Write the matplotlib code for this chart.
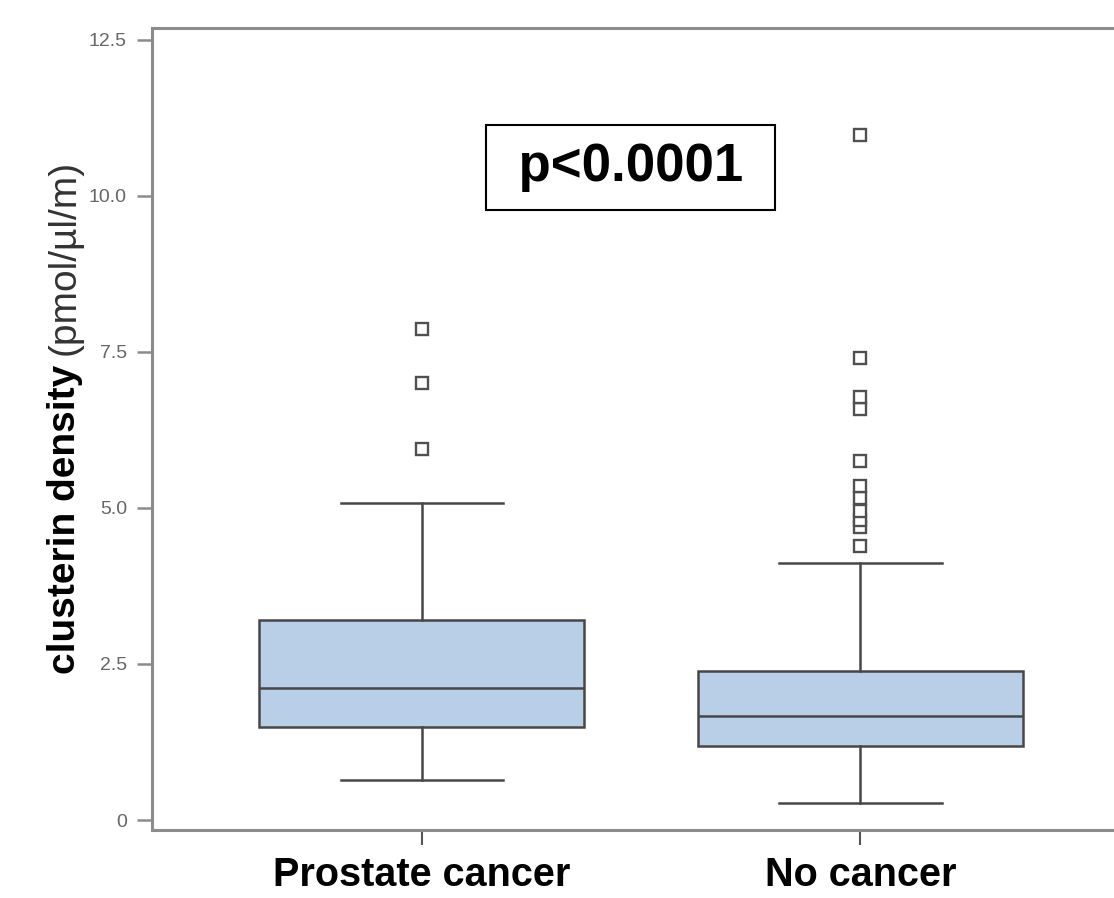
import matplotlib.pyplot as plt

# --- data ---
groups = ["Prostate cancer", "No cancer"]
whis_lo = [0.64, 0.28]
q1 = [1.49, 1.19]
medians = [2.12, 1.67]
q3 = [3.20, 2.39]
whis_hi = [5.08, 4.12]
fliers = [
    [5.95, 7.00, 7.87],
    [4.39, 4.70, 4.81, 4.95, 5.16, 5.35, 5.75, 6.59, 6.78, 7.40, 10.98],
]
yticks = [0, 2.5, 5.0, 7.5, 10.0, 12.5]
ytick_labels = ["0", "2.5", "5.0", "7.5", "10.0", "12.5"]
p_text = " p<0.0001 "

# --- style ---
BOX_FILL = "#b9cfe8"
LINE = "#474747"
SPINE = "#8c8c8c"
plt.rcParams["font.family"] = ["Liberation Sans", "DejaVu Sans"]

stats = []
for i, name in enumerate(groups):
    stats.append(dict(label=name, whislo=whis_lo[i], q1=q1[i], med=medians[i],
                      q3=q3[i], whishi=whis_hi[i], fliers=fliers[i]))

fig = plt.figure(figsize=(11.14, 8.98), dpi=100)
ax = fig.add_axes([152 / 1114, 1 - 830 / 898, 1 - 152 / 1114, (830 - 28) / 898])

ax.bxp(stats, positions=[1, 2], widths=0.74, capwidths=0.37,
       patch_artist=True,
       boxprops=dict(facecolor=BOX_FILL, edgecolor=LINE, linewidth=1.8),
       medianprops=dict(color=LINE, linewidth=1.8),
       whiskerprops=dict(color=LINE, linewidth=1.8),
       capprops=dict(color=LINE, linewidth=1.8),
       flierprops=dict(marker="s", markersize=8, markerfacecolor="white",
                       markeredgecolor="#505050", markeredgewidth=1.7))

ax.set_xlim(0.385, 2.578)
ax.set_ylim(-0.16, 12.69)

ax.set_yticks(yticks)
ax.set_yticklabels(ytick_labels, fontsize=14, color="#666666")
ax.set_xticks([1, 2])
ax.set_xticklabels(groups, fontsize=28.5, fontweight="bold", color="black")
ax.tick_params(axis="y", length=11, width=1.8, color=SPINE, pad=7)
ax.tick_params(axis="x", length=11, width=1.5, color="#555555", pad=8)

for side in ["left", "bottom", "top"]:
    ax.spines[side].set_color(SPINE)
    ax.spines[side].set_linewidth(2.2)
ax.spines["right"].set_visible(False)

# p-value box
ax.text(1.476, 10.46, p_text, fontsize=38, fontweight="bold", ha="center",
        va="center",
        bbox=dict(boxstyle="square,pad=0.33", facecolor="white",
                  edgecolor="black", linewidth=1.5))

# y label: bold part + normal unit part, stacked upward
lab1 = fig.text(65 / 1114, 1 - 674 / 898, "clusterin density", rotation=90,
                fontsize=28, fontweight="bold", color="black",
                ha="center", va="bottom")
fig.canvas.draw()
bb = lab1.get_window_extent()
fig.text(65 / 1114, (bb.y1 + 10) / 898, "(pmol/µl/m)", rotation=90,
         fontsize=28, color="#333333", ha="center", va="bottom")

fig.savefig("out.png", dpi=100)
